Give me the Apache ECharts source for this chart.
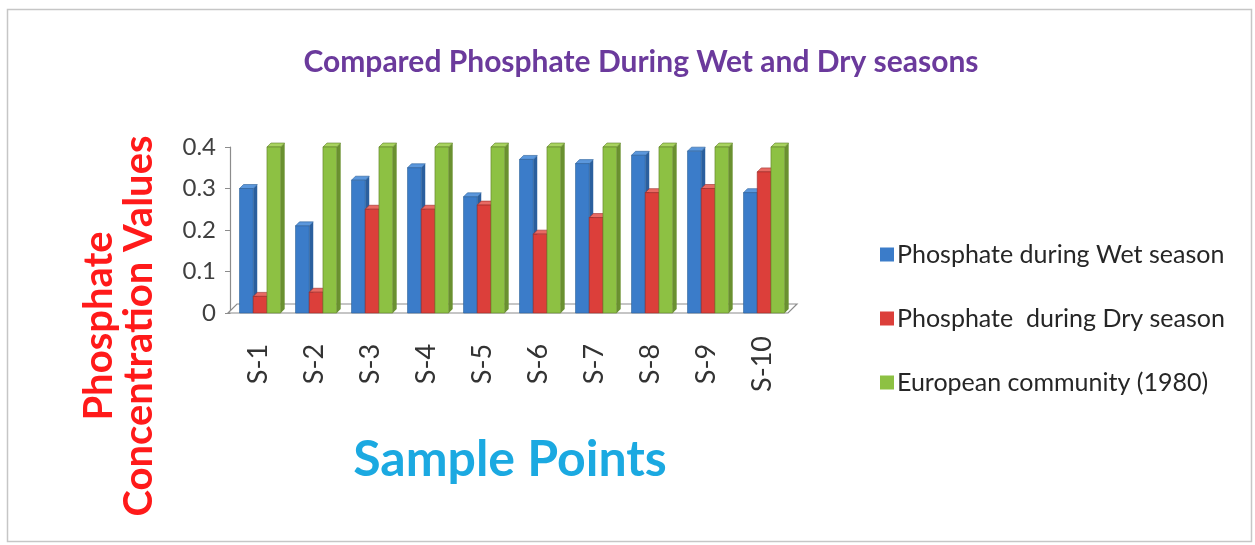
<!DOCTYPE html>
<html>
<head>
<meta charset="utf-8">
<script src="https://cdn.jsdelivr.net/npm/echarts@6/dist/echarts.min.js"></script>
<style>
  html, body { margin: 0; padding: 0; background: #ffffff; }
  #chart { width: 1255px; height: 545px; }
</style>
</head>
<body>
<div id="chart"></div>
<script>
// Sample points along the sampling route
const categories = ['S-1', 'S-2', 'S-3', 'S-4', 'S-5', 'S-6', 'S-7', 'S-8', 'S-9', 'S-10'];
// Phosphate concentration values
const wetSeason = [0.30, 0.21, 0.32, 0.35, 0.28, 0.37, 0.36, 0.38, 0.39, 0.29];
const drySeason = [0.04, 0.05, 0.25, 0.25, 0.26, 0.19, 0.23, 0.29, 0.30, 0.34];
const europeanCommunity = [0.40, 0.40, 0.40, 0.40, 0.40, 0.40, 0.40, 0.40, 0.40, 0.40];
const yTicks = [0, 0.1, 0.2, 0.3, 0.4];

const seriesNames = ['Phosphate during Wet season', 'Phosphate  during Dry season', 'European community (1980)'];
const seriesData = [wetSeason, drySeason, europeanCommunity];
const palette = [
  { front: '#3b7cc9', side: '#2a5f9e', top: '#5b97dc', edge: '#2c5f99' },
  { front: '#dc3f3a', side: '#a82c28', top: '#e86a63', edge: '#9c2a26' },
  { front: '#8dc143', side: '#6a9130', top: '#a8d35f', edge: '#5f7f28' }
];

const FONT = 'Lato, "Open Sans", sans-serif';
const DEPTH = 4;

// Column drawn as a prism: front face, right side face, top face
function makeColumnRenderer(seriesIndex) {
  const c = palette[seriesIndex];
  return function (params, api) {
    const cat = api.value(0);
    const val = api.value(1);
    const top = api.coord([cat, val]);
    const base = api.coord([cat, 0]);
    const band = api.size([1, 0])[0];
    const w = band * 0.245;
    const x0 = top[0] - band * 0.33 + seriesIndex * w;
    const x1 = x0 + w;
    const yT = top[1];
    const yB = base[1];
    return {
      type: 'group',
      children: [
        {
          type: 'polygon',
          shape: { points: [[x1, yT], [x1 + DEPTH, yT - DEPTH], [x1 + DEPTH, yB - DEPTH], [x1, yB]] },
          style: { fill: c.side }
        },
        {
          type: 'polygon',
          shape: { points: [[x0, yT], [x0 + DEPTH, yT - DEPTH], [x1 + DEPTH, yT - DEPTH], [x1, yT]] },
          style: { fill: c.top, stroke: c.edge, lineWidth: 0.6 }
        },
        {
          type: 'rect',
          shape: { x: x0, y: yT, width: w, height: yB - yT },
          style: { fill: c.front, stroke: c.edge, lineWidth: 0.6 }
        }
      ]
    };
  };
}

// Floor plate under the columns
function renderFloor(params, api) {
  const left = api.coord([0, 0]);
  const band = api.size([1, 0])[0];
  const xL = left[0] - band / 2 - 2;
  const xR = xL + band * categories.length;
  const y = left[1];
  const d = 9;
  return {
    type: 'polygon',
    shape: { points: [[xL, y], [xL + d, y - d], [xR + d, y - d], [xR, y]] },
    style: { fill: '#ffffff', stroke: '#8c8c8c', lineWidth: 1.2 },
    z2: -1
  };
}

const series = [
  {
    type: 'custom',
    name: '_floor',
    renderItem: renderFloor,
    data: [[0, 0]],
    silent: true,
    z: 1
  }
];
seriesData.forEach(function (arr, i) {
  series.push({
    type: 'custom',
    name: seriesNames[i],
    renderItem: makeColumnRenderer(i),
    encode: { x: 0, y: 1 },
    data: arr.map(function (v, k) { return [k, v]; }),
    itemStyle: { color: palette[i].front },
    z: 2 + i
  });
});

const chart = echarts.init(document.getElementById('chart'), null, { renderer: 'canvas' });
chart.setOption({
  backgroundColor: '#ffffff',
  animation: false,
  title: {
    text: 'Compared Phosphate During Wet and Dry seasons',
    left: 636,
    top: 42,
    textAlign: 'center',
    textStyle: { fontFamily: FONT, fontSize: 30, fontWeight: 'bold', color: '#6b3a9c' }
  },
  legend: {
    orient: 'vertical',
    left: 875,
    top: 237,
    itemWidth: 14,
    itemHeight: 14,
    itemGap: 39,
    icon: 'rect',
    data: seriesNames,
    textStyle: { fontFamily: FONT, fontSize: 25, color: '#262626', padding: [0, 0, 0, -2] }
  },
  grid: { left: 230, right: 465, top: 147, bottom: 232 },
  xAxis: {
    type: 'category',
    data: categories,
    name: 'Sample Points',
    nameLocation: 'middle',
    nameGap: 122,
    nameTextStyle: { fontFamily: FONT, fontSize: 50, fontWeight: 'bold', color: '#1ba9e1' },
    axisLine: { show: false },
    axisTick: { show: false },
    axisLabel: {
      rotate: 90,
      margin: 51,
      align: 'center',
      verticalAlign: 'middle',
      fontFamily: FONT,
      fontSize: 27,
      color: '#333333'
    }
  },
  yAxis: {
    type: 'value',
    min: 0,
    max: 0.4,
    interval: 0.1,
    axisLine: { show: true, lineStyle: { color: '#8c8c8c', width: 1.2 } },
    axisTick: { show: true, inside: false, length: 5, lineStyle: { color: '#8c8c8c' } },
    splitLine: { show: false },
    axisLabel: {
      margin: 14,
      fontFamily: FONT,
      fontSize: 24,
      color: '#404040',
      formatter: function (v) {
        const t = yTicks.find(function (k) { return Math.abs(k - v) < 1e-9; });
        return t === undefined ? '' : String(t);
      }
    }
  },
  graphic: [
    {
      type: 'rect',
      left: 5, top: 7,
      shape: { width: 1244, height: 532 },
      style: { fill: 'none', stroke: '#c6c6c6', lineWidth: 1.5 },
      z: -10
    },
    {
      type: 'text',
      x: 119,
      y: 326,
      rotation: Math.PI / 2,
      style: {
        text: 'Phosphate\nConcentration Values',
        textAlign: 'center',
        textVerticalAlign: 'middle',
        fontFamily: FONT,
        fontSize: 40,
        fontWeight: 'bold',
        lineHeight: 40,
        fill: '#ff1a1a'
      }
    }
  ],
  series: series
});
</script>
</body>
</html>
